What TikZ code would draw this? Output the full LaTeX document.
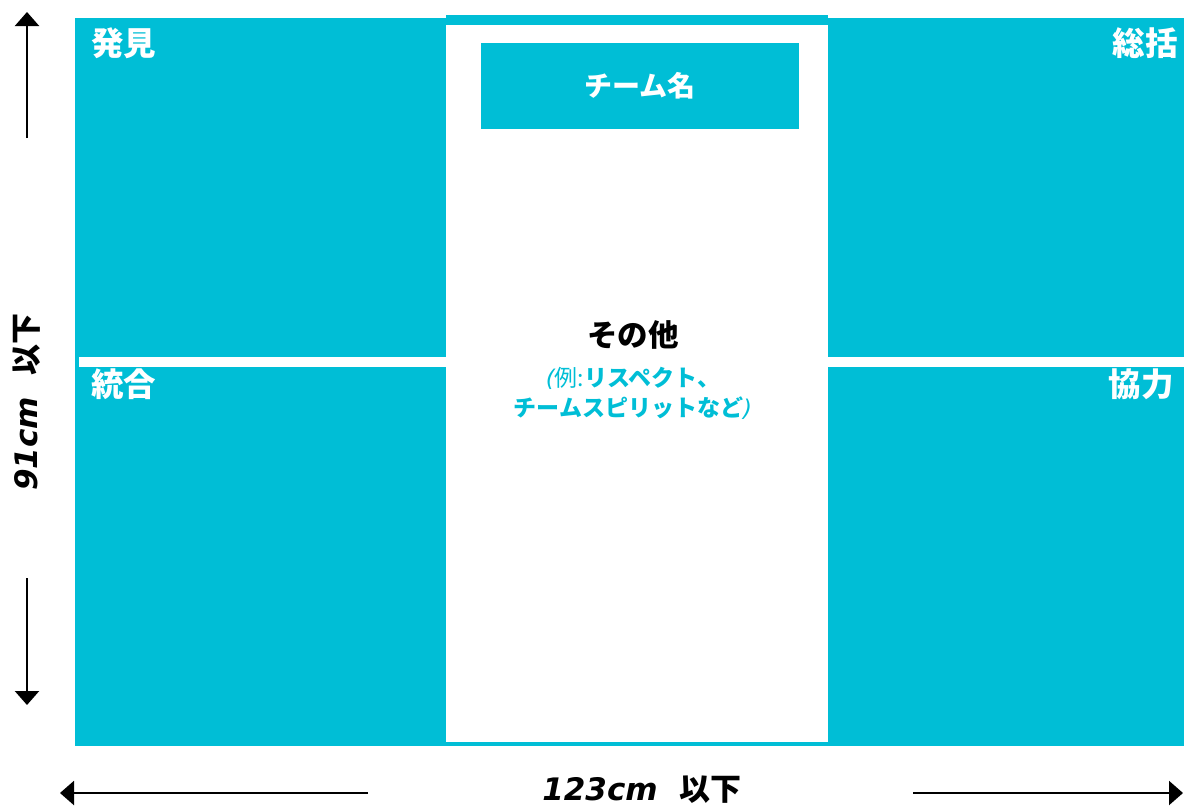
\documentclass[tikz,border=0pt]{standalone}
\usepackage{fontspec}
\usetikzlibrary{arrows.meta}
\newfontfamily\jp{Noto Sans CJK JP}
\newfontfamily\vd{DejaVu Sans}
\definecolor{tealc}{RGB}{0,190,214}
\begin{document}
\begin{tikzpicture}[x=1pt,y=-1pt,
  panel/.style={fill=tealc, draw=none},
  lab/.style={text=white, font=\jp\bfseries\fontsize{32.5}{34}\selectfont, inner sep=0pt},
  dimline/.style={line width=2.2pt, -{Triangle[width=24pt,length=14pt]}},
  dimtext/.style={inner sep=0pt, font=\fontsize{31}{33}\selectfont},
]
\useasboundingbox (0,0) rectangle (1184,807);
% panels
\fill[panel] (75,18) rectangle (446,746);
\fill[white] (79,357) rectangle (446,367);
\fill[panel] (828,18) rectangle (1184,746);
\fill[white] (828,357) rectangle (1184,367);
% centre frame bars
\fill[panel] (446,15) rectangle (828,25);
\fill[panel] (446,742) rectangle (828,746);
% team box
\node[fill=tealc, minimum width=318pt, minimum height=86pt, inner sep=0pt,
      text=white, font=\jp\bfseries\fontsize{28}{30}\selectfont] (team) at (640,86) {チーム名};
% labels
\node[lab, anchor=west] (l1) at (91,43) {発見};
\node[lab, anchor=west] (l2) at (91,384) {統合};
\node[lab, anchor=east] (l3) at (1178,43) {総括};
\node[lab, anchor=east] (l4) at (1174,384) {協力};
% centre text
\node[inner sep=0pt, font=\jp\bfseries\fontsize{30.5}{32}\selectfont] (other) at (633,335) {その他};
\node[inner sep=0pt, align=center, text=tealc, font=\jp\bfseries\fontsize{23}{30}\selectfont] (ex) at (633,393)
  {{\vd\itshape\mdseries(}{\mdseries 例:}リスペクト、\\チームスピリットなど{\vd\itshape\mdseries)}};
% vertical dimension
\node[dimtext, rotate=90] (vt) at (27,402) {{\vd\bfseries\itshape 91cm}\hspace{22pt}{\jp\bfseries 以下}};
\coordinate (vtop0) at (27,138);
\coordinate (vtop1) at (27,12);
\coordinate (vbot0) at (27,578);
\coordinate (vbot1) at (27,705);
\draw[dimline] (vtop0) -- (vtop1);
\draw[dimline] (vbot0) -- (vbot1);
% horizontal dimension
\node[dimtext] (ht) at (642,790) {{\vd\bfseries\itshape 123cm}\hspace{22pt}{\jp\bfseries 以下}};
\coordinate (hl0) at (368,793);
\coordinate (hl1) at (60,793);
\coordinate (hr0) at (913,793);
\coordinate (hr1) at (1183,793);
\draw[dimline] (hl0) -- (hl1);
\draw[dimline] (hr0) -- (hr1);
\end{tikzpicture}
\end{document}
